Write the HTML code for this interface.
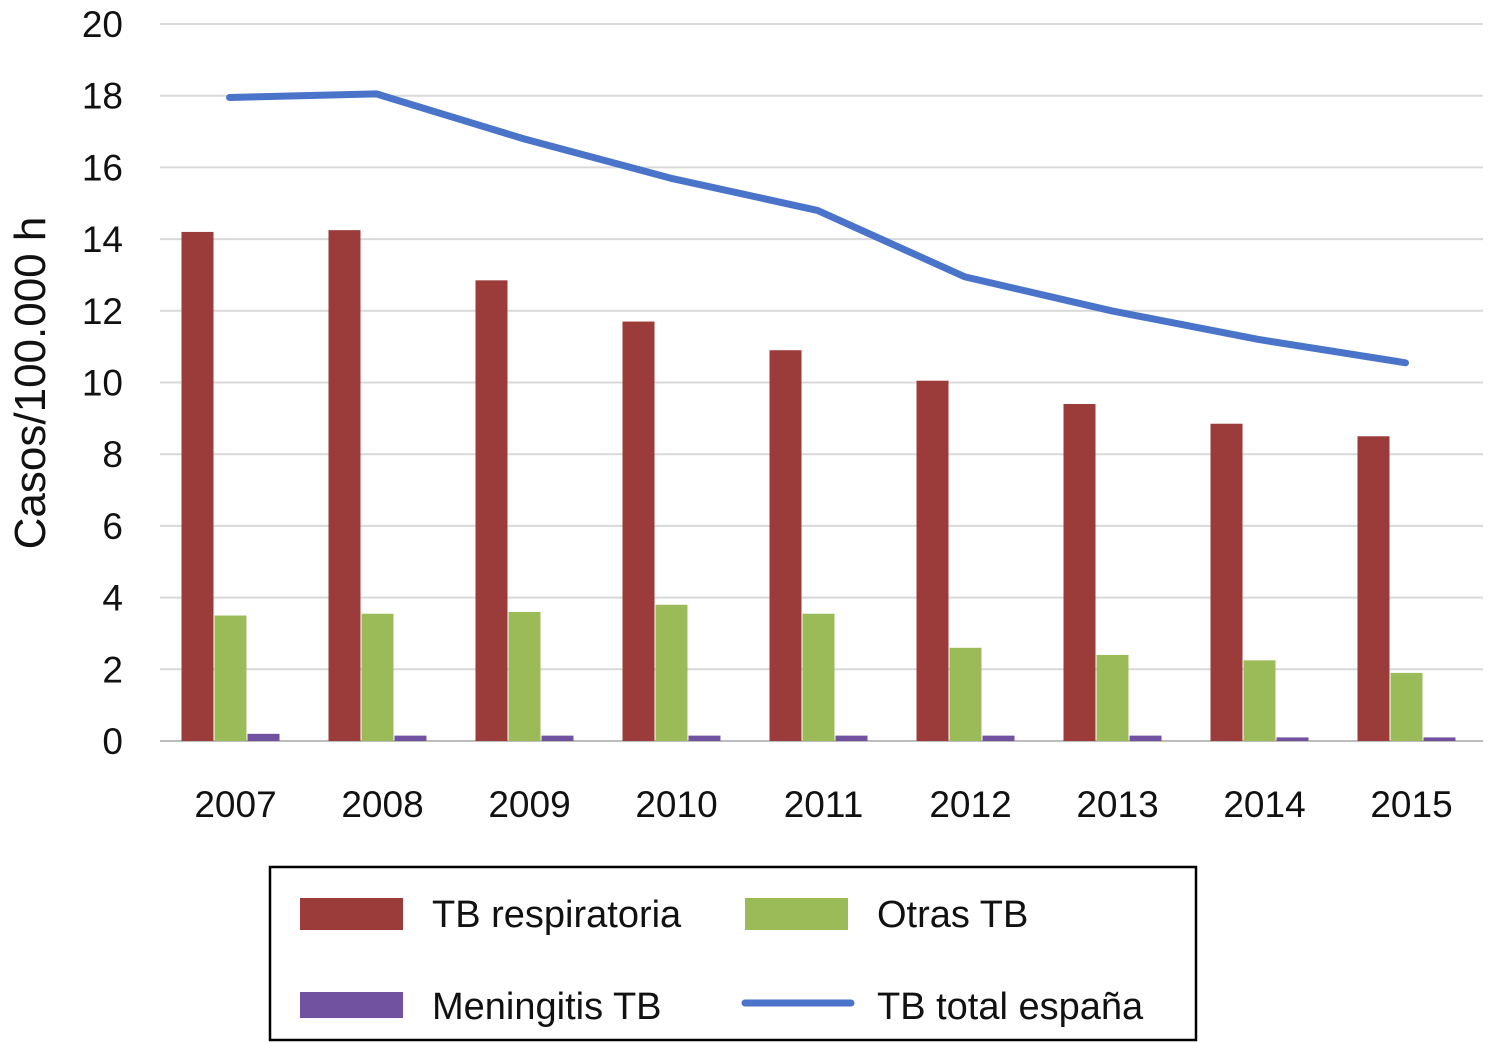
<!DOCTYPE html>
<html><head><meta charset="utf-8"><style>
body{margin:0;background:#fff;}
svg{display:block;font-family:"Liberation Sans",Arial,sans-serif;}
</style></head><body>
<svg id="chart" width="1491" height="1043"></svg>
<script>
const categories=["2007","2008","2009","2010","2011","2012","2013","2014","2015"];
const respiratoria=[14.2,14.25,12.85,11.7,10.9,10.05,9.4,8.85,8.5];
const otras=[3.5,3.55,3.6,3.8,3.55,2.6,2.4,2.25,1.9];
const meningitis=[0.2,0.15,0.15,0.15,0.15,0.15,0.15,0.1,0.1];
const totalEspana=[17.95,18.05,16.8,15.7,14.8,12.95,12.0,11.2,10.55];
const yTicks=[0,2,4,6,8,10,12,14,16,18,20];

const NS="http://www.w3.org/2000/svg";
const svg=document.getElementById('chart');
function mk(t,a,p){const e=document.createElementNS(NS,t);for(const k in a)e.setAttribute(k,a[k]);(p||svg).appendChild(e);return e;}
const x0=160,x1=1483,yB=741,yT=24;
const band=(x1-x0)/categories.length;
const y=v=>yB-(v/20)*(yB-yT);
const xc=i=>x0+band*(i+0.5);

yTicks.forEach(t=>{
  const g=mk('line',{x1:x0,x2:x1,y1:y(t),y2:y(t),stroke:t===0?'#bdbdbd':'#d9d9d9','stroke-width':2});
  
  
  const l=mk('text',{x:123,y:y(t)+13,'text-anchor':'end','font-size':37,fill:'#111'});
  l.textContent=t;
  
  
});
const yt=mk('text',{x:0,y:0,transform:'translate(45,383) rotate(-90)','text-anchor':'middle','font-size':44,fill:'#111'});
yt.textContent='Casos/100.000 h';



const series=[[respiratoria,'#9b3b3a','bar-respiratoria'],[otras,'#9bbb59','bar-otras'],[meningitis,'#7052a0','bar-meningitis']];
categories.forEach((c,i)=>{
  series.forEach((s,j)=>{
    const v=s[0][i];
    const r=mk('rect',{x:xc(i)-52+j*33,y:y(v),width:32,height:yB-y(v),fill:s[1]});
    
    
  });
  const l=mk('text',{x:xc(i)+2,y:817,'text-anchor':'middle','font-size':37,fill:'#111'});
  l.textContent=c;
  
  
});
const pts=totalEspana.map((v,i)=>(xc(i)-4)+','+y(v)).join(' ');
const pl=mk('polyline',{points:pts,fill:'none',stroke:'#4a74c9','stroke-width':7,'stroke-linejoin':'round','stroke-linecap':'round'});



const lg=mk('g',{});


mk('rect',{x:270,y:867,width:926,height:173,fill:'#fff',stroke:'#000','stroke-width':2.5},lg);
const items=[[300,898,'rect','#9b3b3a','TB respiratoria'],[745,898,'rect','#9bbb59','Otras TB'],[300,990,'thin','#7052a0','Meningitis TB'],[745,990,'line','#4a74c9','TB total españa']];
items.forEach(it=>{
  const g=mk('g',{},lg);
  
  
  if(it[2]==='rect')mk('rect',{x:it[0],y:it[1],width:103,height:32,fill:it[3]},g);
  else if(it[2]==='thin')mk('rect',{x:it[0],y:it[1]+2,width:103,height:26,fill:it[3]},g);
  else mk('line',{x1:it[0],x2:it[0]+106,y1:it[1]+13,y2:it[1]+13,stroke:it[3],'stroke-width':7,'stroke-linecap':'round'},g);
  const t=mk('text',{x:it[0]+132,y:it[1]+29,'font-size':38,fill:'#111'},g);
  t.textContent=it[4];
});
</script>
</body></html>
